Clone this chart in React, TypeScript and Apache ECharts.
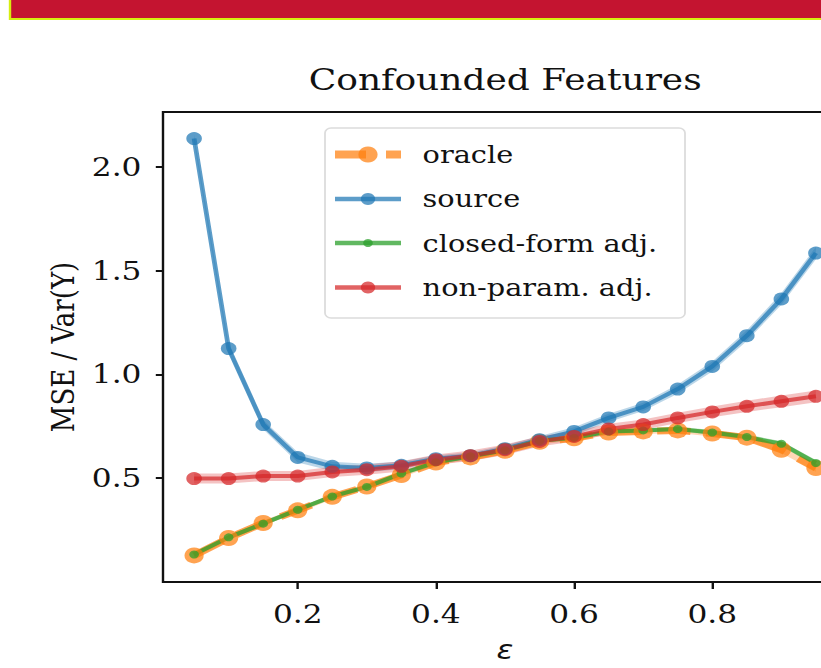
import React, { useEffect, useRef } from "react";
import * as echarts from "echarts";

const eps = [0.05, 0.1, 0.15, 0.2, 0.25, 0.3, 0.35, 0.4, 0.45, 0.5, 0.55, 0.6, 0.65, 0.7, 0.75, 0.8, 0.85, 0.9, 0.95];
const oracle = [0.128, 0.212, 0.284, 0.345, 0.41, 0.46, 0.515, 0.575, 0.6, 0.632, 0.675, 0.692, 0.72, 0.725, 0.73, 0.715, 0.695, 0.637, 0.549];
const source = [2.135, 1.124, 0.758, 0.6, 0.557, 0.549, 0.562, 0.594, 0.608, 0.642, 0.685, 0.725, 0.79, 0.843, 0.929, 1.038, 1.186, 1.363, 1.584];
const closedForm = [0.132, 0.215, 0.281, 0.348, 0.412, 0.458, 0.522, 0.576, 0.605, 0.634, 0.68, 0.694, 0.725, 0.73, 0.737, 0.72, 0.698, 0.666, 0.573];
const nonParam = [0.498, 0.498, 0.51, 0.51, 0.53, 0.541, 0.557, 0.589, 0.608, 0.637, 0.677, 0.701, 0.737, 0.758, 0.79, 0.819, 0.846, 0.87, 0.894];

const oracleBand = [0.012, 0.012, 0.012, 0.012, 0.012, 0.012, 0.012, 0.012, 0.012, 0.012, 0.012, 0.012, 0.012, 0.012, 0.012, 0.014, 0.014, 0.016, 0.018];
const sourceBand = [0.02, 0.02, 0.022, 0.025, 0.022, 0.02, 0.018, 0.016, 0.016, 0.016, 0.018, 0.02, 0.02, 0.02, 0.022, 0.024, 0.026, 0.028, 0.03];
const closedBand = [0.01, 0.01, 0.01, 0.01, 0.01, 0.01, 0.01, 0.01, 0.01, 0.01, 0.01, 0.01, 0.01, 0.01, 0.01, 0.012, 0.012, 0.012, 0.014];
const nonParamBand = [0.024, 0.024, 0.024, 0.024, 0.025, 0.025, 0.025, 0.025, 0.025, 0.025, 0.025, 0.025, 0.025, 0.025, 0.025, 0.026, 0.027, 0.028, 0.028];

const xTicks = [0.2, 0.4, 0.6, 0.8];
const yTicks = [0.5, 1.0, 1.5, 2.0];

const names = ["oracle", "source", "closed-form adj.", "non-param. adj."];

const ORANGE = "rgba(255,127,14,0.72)";
const BLUE = "rgba(31,119,180,0.72)";
const GREEN = "rgba(44,160,44,0.75)";
const RED = "rgba(214,39,40,0.72)";

const SERIF = "DejaVu Serif";
// the reference figure is stretched horizontally; render narrower and scale with CSS
const SX = 1.2;
const px = (v: number) => v / SX;

function bandSeries(vals: number[], half: number[], color: string) {
  const data = eps.map((x, i) => [x, vals[i] - half[i], vals[i] + half[i]]);
  return {
    type: "custom",
    silent: true,
    clip: true,
    encode: { x: 0, y: [1, 2] },
    data,
    renderItem: (params: any, api: any) => {
      if (params.dataIndex !== 0) return null;
      const upper = data.map((d) => api.coord([d[0], d[2]]));
      const lower = data.map((d) => api.coord([d[0], d[1]])).reverse();
      return {
        type: "polygon",
        shape: { points: upper.concat(lower) },
        style: { fill: color, stroke: "none" },
      };
    },
  };
}

function lineSeries(name: string, vals: number[], color: string, width: number, size: number, dash?: number[]) {
  return {
    type: "line",
    name,
    data: eps.map((x, i) => [x, vals[i]]),
    symbol: "circle",
    symbolSize: size,
    showSymbol: true,
    lineStyle: { color, width, type: dash ? dash : "solid" },
    itemStyle: { color, borderWidth: 0 },
    emphasis: { disabled: true },
  };
}

// legend handles (line + marker) drawn as graphics, one per legend row
function handle(y: number, color: string, lw: number, r: number, dashed: boolean) {
  const x0 = px(335);
  const x1 = px(401);
  const cx = px(368);
  const els: any[] = [];
  if (dashed) {
    els.push({ type: "line", shape: { x1: x0, y1: y, x2: px(366), y2: y }, style: { stroke: color, lineWidth: lw }, z: 5 });
    els.push({ type: "line", shape: { x1: px(386), y1: y, x2: x1, y2: y }, style: { stroke: color, lineWidth: lw }, z: 5 });
  } else {
    els.push({ type: "line", shape: { x1: x0, y1: y, x2: x1, y2: y }, style: { stroke: color, lineWidth: lw }, z: 5 });
  }
  els.push({ type: "circle", shape: { cx, cy: y, r }, style: { fill: color }, z: 5 });
  return els;
}

export default function App() {
  const ref = useRef<HTMLDivElement>(null);
  useEffect(() => {
    if (!ref.current) return;
    const chart = echarts.init(ref.current, null, { renderer: "svg" });
    const option: any = {
      animation: false,
      backgroundColor: "#ffffff",
      title: {
        text: "Confounded Features",
        left: "center",
        top: 60,
        textStyle: { fontFamily: SERIF, fontSize: 30, fontWeight: "normal", color: "#111" },
      },
      graphic: [
        {
          type: "rect",
          shape: { x: px(10), y: -10, width: 1100, height: 29 },
          style: { fill: "#c41430", stroke: "#d6ee10", lineWidth: 2 },
          z: 10,
        },
        {
          type: "rect",
          shape: { x: px(325), y: 128, width: px(360), height: 190, r: 5 },
          style: { fill: "rgba(255,255,255,0.85)", stroke: "#dcdcdc", lineWidth: 1.5 },
          z: 3,
        },
        ...handle(154.5, ORANGE, 8, 8, true),
        ...handle(199, BLUE, 4.5, 6, false),
        ...handle(243, GREEN, 4.5, 4, false),
        ...handle(287.5, RED, 4.5, 6, false),
      ],
      legend: {
        data: names.map((n) => ({ name: n, icon: "rect", itemStyle: { opacity: 0 } })),
        orient: "vertical",
        left: px(335),
        top: 139,
        padding: 0,
        itemWidth: px(66),
        itemHeight: 15,
        itemGap: 14.5,
        z: 4,
        selectedMode: false,
        formatter: (n: string) => "{g|}" + n,
        textStyle: {
          fontFamily: SERIF,
          fontSize: 24,
          lineHeight: 30,
          color: "#111",
          rich: { g: { width: 13 } },
        },
      },
      grid: {
        left: px(163),
        top: 112,
        width: px(684),
        height: 470,
        show: true,
        borderColor: "#111",
        borderWidth: 2,
        backgroundColor: "transparent",
      },
      xAxis: {
        type: "value",
        min: 0.005,
        max: 0.995,
        name: "ε",
        nameLocation: "middle",
        nameGap: 55,
        nameTextStyle: { fontFamily: "DejaVu Sans", fontStyle: "italic", fontSize: 26, color: "#111" },
        axisLine: { show: false },
        splitLine: { show: false },
        axisTick: { show: true, inside: false, length: 7, lineStyle: { color: "#111", width: 2 }, customValues: xTicks },
        axisLabel: {
          customValues: xTicks,
          formatter: (v: number) => v.toFixed(1),
          fontFamily: SERIF,
          fontSize: 26,
          color: "#111",
          margin: 19,
        },
      },
      yAxis: {
        type: "value",
        min: 0.0,
        max: 2.263,
        name: "MSE / Var(Y)",
        nameLocation: "middle",
        nameGap: 67,
        nameRotate: 90,
        nameTextStyle: { fontFamily: SERIF, fontSize: 26, color: "#111" },
        axisLine: { show: false },
        splitLine: { show: false },
        axisTick: { show: true, inside: false, length: 6, lineStyle: { color: "#111", width: 2 }, customValues: yTicks },
        axisLabel: {
          customValues: yTicks,
          formatter: (v: number) => v.toFixed(1),
          fontFamily: SERIF,
          fontSize: 26,
          color: "#111",
          margin: 18,
        },
      },
      series: [
        bandSeries(oracle, oracleBand, "rgba(255,127,14,0.3)"),
        lineSeries("oracle", oracle, ORANGE, 7, 16, [28, 13]),
        bandSeries(source, sourceBand, "rgba(31,119,180,0.3)"),
        lineSeries("source", source, BLUE, 4, 13),
        bandSeries(closedForm, closedBand, "rgba(44,160,44,0.3)"),
        lineSeries("closed-form adj.", closedForm, GREEN, 4, 8),
        bandSeries(nonParam, nonParamBand, "rgba(214,39,40,0.28)"),
        lineSeries("non-param. adj.", nonParam, RED, 4, 13),
      ],
    };
    chart.setOption(option);
    return () => chart.dispose();
  }, []);
  return (
    <div style={{ position: "fixed", left: 0, top: 0, width: 821, height: 668, overflow: "hidden", background: "#fff" }}>
      <div
        ref={ref}
        style={{ width: 1010 / SX, height: 668, transform: `scaleX(${SX})`, transformOrigin: "0 0" }}
      />
    </div>
  );
}
